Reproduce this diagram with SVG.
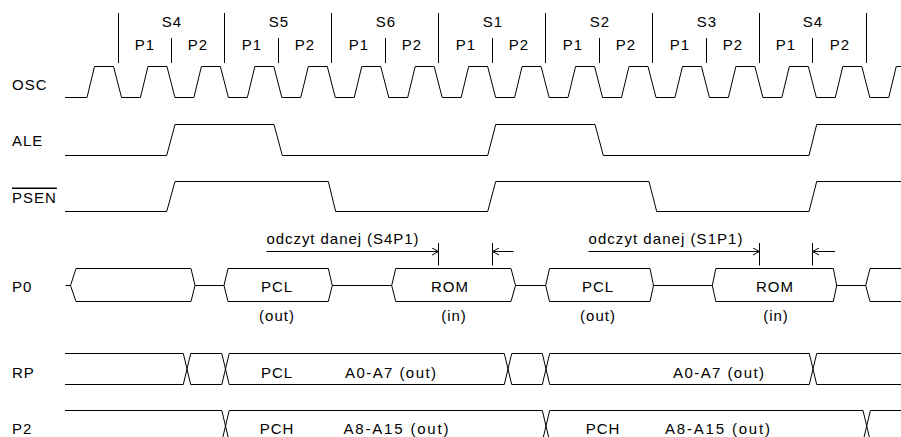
<svg xmlns="http://www.w3.org/2000/svg" width="901" height="437" viewBox="0 0 901 437">
<defs>
<style>
text{font-family:"Liberation Sans",Arial,sans-serif;font-size:15px;fill:#000;letter-spacing:1px}
.m{text-anchor:middle}
.w{fill:none;stroke:#000;stroke-width:1}
.a{fill:none;stroke:#000;stroke-width:1;marker-end:url(#ah)}
</style>
<marker id="ah" viewBox="0 0 8 8" refX="7.5" refY="4" markerWidth="8" markerHeight="8" markerUnits="userSpaceOnUse" orient="auto">
<path d="M1,0.5 L7.5,4 L1,7.5" fill="none" stroke="#000" stroke-width="1"/>
</marker>
</defs>
<rect width="901" height="437" fill="#fff"/>

<g id="header">
<path class="w" d="M118.5,13V63 M224.5,13V63 M331.5,13V63 M438.5,13V63 M545.5,13V63 M652.5,13V63 M759.5,13V63 M866.5,13V63 M171.5,38V63 M278.5,38V63 M385.5,38V63 M492.5,38V63 M599.5,38V63 M706.5,38V63 M812.5,38V63"/>
<text class="m" x="172" y="27">S4</text>
<text class="m" x="279" y="27">S5</text>
<text class="m" x="386" y="27">S6</text>
<text class="m" x="493" y="27">S1</text>
<text class="m" x="600" y="27">S2</text>
<text class="m" x="707" y="27">S3</text>
<text class="m" x="813" y="27">S4</text>
<text class="m" x="145" y="50">P1</text>
<text class="m" x="198" y="50">P2</text>
<text class="m" x="252" y="50">P1</text>
<text class="m" x="305" y="50">P2</text>
<text class="m" x="359" y="50">P1</text>
<text class="m" x="412" y="50">P2</text>
<text class="m" x="466" y="50">P1</text>
<text class="m" x="519" y="50">P2</text>
<text class="m" x="573" y="50">P1</text>
<text class="m" x="626" y="50">P2</text>
<text class="m" x="680" y="50">P1</text>
<text class="m" x="733" y="50">P2</text>
<text class="m" x="786" y="50">P1</text>
<text class="m" x="840" y="50">P2</text>
</g>

<g id="osc">
<text x="12" y="89.5">OSC</text>
<path class="w" d="M65,97.5 L87,97.5 L94.5,66.5 L113.5,66.5 L121.5,97.5 L140.45,97.5 L147.95,66.5 L166.95,66.5 L174.95,97.5 L193.9,97.5 L201.4,66.5 L220.4,66.5 L228.4,97.5 L247.35,97.5 L254.85,66.5 L273.85,66.5 L281.85,97.5 L300.8,97.5 L308.3,66.5 L327.3,66.5 L335.3,97.5 L354.25,97.5 L361.75,66.5 L380.75,66.5 L388.75,97.5 L407.7,97.5 L415.2,66.5 L434.2,66.5 L442.2,97.5 L461.15,97.5 L468.65,66.5 L487.65,66.5 L495.65,97.5 L514.6,97.5 L522.1,66.5 L541.1,66.5 L549.1,97.5 L568.05,97.5 L575.55,66.5 L594.55,66.5 L602.55,97.5 L621.5,97.5 L629,66.5 L648,66.5 L656,97.5 L674.95,97.5 L682.45,66.5 L701.45,66.5 L709.45,97.5 L728.4,97.5 L735.9,66.5 L754.9,66.5 L762.9,97.5 L781.85,97.5 L789.35,66.5 L808.35,66.5 L816.35,97.5 L835.3,97.5 L842.8,66.5 L861.8,66.5 L869.8,97.5 L888.75,97.5 L896.25,66.5 L901,66.5"/>
</g>

<g id="ale">
<text x="12" y="146">ALE</text>
<path class="w" d="M65,155.5 L166.7,155.5 L175,124.5 L274,124.5 L282.3,155.5 L487.7,155.5 L495.7,124.5 L595,124.5 L603.3,155.5 L809,155.5 L816.7,124.5 L901,124.5"/>
</g>

<g id="psen">
<text x="12" y="202.5" style="text-decoration:overline">PSEN</text>
<path class="w" d="M65,211.5 L166.7,211.5 L175,181.5 L328.3,181.5 L335.7,211.5 L487.7,211.5 L495.7,181.5 L649,181.5 L656.7,211.5 L809,211.5 L816.7,181.5 L901,181.5"/>
</g>

<g id="p0">
<text x="12" y="291.5">P0</text>
<path class="w" d="M65.5,285.5 H70.5 L76,268.5 H191 L195,285.5 L191,301.5 H76 L70.5,285.5 M195,285.5 H224 L228,268.5 H328.3 L332.3,285.5 L328.3,301.5 H228 L224,285.5 M332.3,285.5 H391.7 L395.7,268.5 H511 L515.5,285.5 L511,301.5 H395.7 L391.7,285.5 M515.5,285.5 H545.7 L549.5,268.5 H650 L653.5,285.5 L650,301.5 H549.5 L545.7,285.5 M653.5,285.5 H712.3 L715.8,268.5 H833.3 L836.7,285.5 L833.3,301.5 H715.8 L712.3,285.5 M836.7,285.5 H865.7 L870,268.5 H901 M870,301.5 H901 M865.7,285.5 L870,301.5"/>
<text class="m" x="277" y="291.5">PCL</text>
<text class="m" x="277" y="321">(out)</text>
<text class="m" x="450" y="291.5">ROM</text>
<text class="m" x="454" y="321">(in)</text>
<text class="m" x="598" y="291.5">PCL</text>
<text class="m" x="598" y="321">(out)</text>
<text class="m" x="775" y="291.5">ROM</text>
<text class="m" x="776" y="321">(in)</text>
</g>

<g id="annotations">
<text x="266.5" y="244" textLength="153" lengthAdjust="spacing">odczyt danej (S4P1)</text>
<text x="588.5" y="244" textLength="155" lengthAdjust="spacing">odczyt danej (S1P1)</text>
<path class="w" d="M438.5,243V265.5 M492.5,243V265.5 M759.5,243V265.5 M812.5,243V265.5"/>
<path class="a" d="M266.5,251.5 H438.5"/>
<path class="a" d="M513.5,251.5 H492.5"/>
<path class="a" d="M588.5,251.5 H759.5"/>
<path class="a" d="M835,251.5 H812.5"/>
</g>

<g id="rp">
<text x="12" y="378">RP</text>
<path class="w" d="M65,353.5 H183.3 L190.7,384.5 H221.8 L229.2,353.5 H504.3 L511.7,384.5 H542.3 L549.7,353.5 H809.3 L816.7,384.5 H901 M65,384.5 H183.3 L190.7,353.5 H221.8 L229.2,384.5 H504.3 L511.7,353.5 H542.3 L549.7,384.5 H809.3 L816.7,353.5 H901"/>
<text class="m" x="277" y="378">PCL</text>
<text x="345" y="378" textLength="92" lengthAdjust="spacing">A0-A7 (out)</text>
<text x="673" y="378" textLength="92" lengthAdjust="spacing">A0-A7 (out)</text>
</g>

<g id="p2">
<text x="12" y="434">P2</text>
<path class="w" d="M65,410.5 H221.8 L229.2,441.5 M221.8,441.5 L229.2,410.5 H542.3 L549.7,441.5 M542.3,441.5 L549.7,410.5 H863 L870.4,441.5 M863,441.5 L870.4,410.5 H901"/>
<text class="m" x="277" y="434">PCH</text>
<text x="343.5" y="434" textLength="106" lengthAdjust="spacing">A8-A15 (out)</text>
<text class="m" x="603" y="434">PCH</text>
<text x="665" y="434" textLength="106" lengthAdjust="spacing">A8-A15 (out)</text>
</g>
</svg>
